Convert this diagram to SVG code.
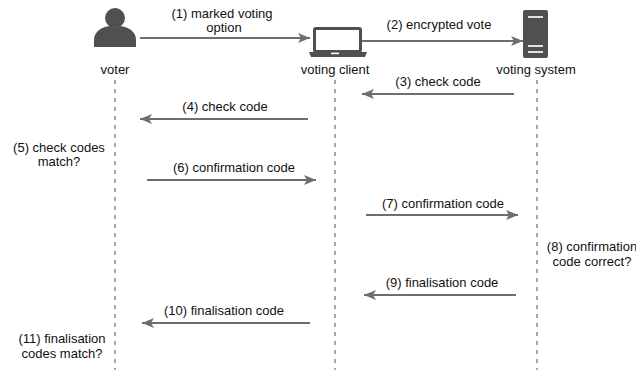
<svg xmlns="http://www.w3.org/2000/svg" width="636" height="370" viewBox="0 0 636 370">
<style>
text{font-family:"Liberation Sans",Arial,Helvetica,sans-serif;font-size:13px;fill:#111111;text-anchor:middle}
.life{stroke:#8a8a8a;stroke-width:1.5;stroke-dasharray:4 5;fill:none}
.msg{stroke:#6e6e6e;stroke-width:1.8;fill:none;marker-end:url(#ah)}
.icon{fill:#505050}
</style>
<defs>
<marker id="ah" markerUnits="userSpaceOnUse" markerWidth="13" markerHeight="11" refX="12" refY="5" orient="auto">
<path d="M0,0 L12,5 L0,10 L3,5 Z" fill="#6e6e6e"/>
</marker>
</defs>
<rect width="636" height="370" fill="#ffffff"/>
<g id="lifelines">
<line class="life" x1="115" y1="80" x2="115" y2="370"/>
<line class="life" x1="335" y1="80" x2="335" y2="370"/>
<line class="life" x1="537" y1="80" x2="537" y2="370"/>
</g>
<g id="voter">
<circle class="icon" cx="115" cy="18" r="10"/>
<path class="icon" d="M94,47 V40 C94,31 102,27 110,26 L115,28 L120,26 C128,27 136,31 136,40 V47 Z"/>
<text x="115" y="74">voter</text>
</g>
<g id="voting-client">
<rect x="314.5" y="28.5" width="46" height="23" rx="1.5" fill="none" stroke="#505050" stroke-width="3"/>
<path class="icon" d="M309,52 H367 L365,57 H311 Z"/>
<rect x="331" y="52.6" width="8" height="1.6" fill="#ffffff"/>
<text x="335" y="74">voting client</text>
</g>
<g id="voting-system">
<rect class="icon" x="523" y="10" width="25" height="48" rx="2"/>
<g stroke="#e0e0e0" stroke-width="2">
<line x1="528" y1="17" x2="543" y2="17"/>
<line x1="528" y1="46" x2="543" y2="46"/>
<line x1="528" y1="52" x2="543" y2="52"/>
</g>
<text x="536" y="74">voting system</text>
</g>
<g id="connectors">
<line class="msg" x1="140" y1="38" x2="310" y2="38"/>
<line class="msg" x1="362" y1="41" x2="523" y2="41"/>
<line class="msg" x1="514" y1="94" x2="362" y2="94"/>
<line class="msg" x1="308" y1="119" x2="140" y2="119"/>
<line class="msg" x1="147" y1="180" x2="316" y2="180"/>
<line class="msg" x1="366" y1="215" x2="518" y2="215"/>
<line class="msg" x1="516" y1="295" x2="364" y2="295"/>
<line class="msg" x1="310" y1="323" x2="142" y2="323"/>
</g>
<g id="labels">
<text x="222" y="18">(1) marked voting</text>
<text x="224" y="32">option</text>
<text x="439" y="29">(2) encrypted vote</text>
<text x="438" y="86">(3) check code</text>
<text x="225" y="111">(4) check code</text>
<text x="234" y="172">(6) confirmation code</text>
<text x="443" y="208">(7) confirmation code</text>
<text x="442" y="287">(9) finalisation code</text>
<text x="224" y="315">(10) finalisation code</text>
</g>
<g id="notes">
<text x="59" y="152">(5) check codes</text>
<text x="59" y="166">match?</text>
<text x="592" y="251">(8) confirmation</text>
<text x="592" y="266">code correct?</text>
<text x="62" y="343">(11) finalisation</text>
<text x="62" y="358">codes match?</text>
</g>
</svg>
